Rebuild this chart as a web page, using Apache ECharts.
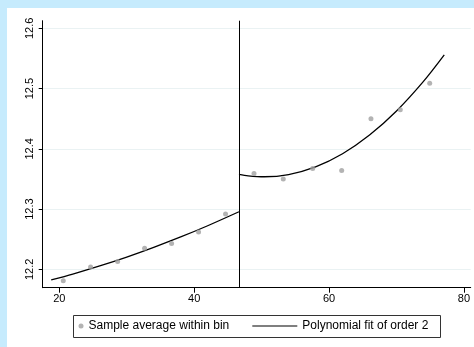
<!DOCTYPE html>
<html>
<head>
<meta charset="utf-8">
<script src="https://cdn.jsdelivr.net/npm/echarts@6/dist/echarts.min.js"></script>
<style>
  html, body { margin: 0; padding: 0; background: #c6ebfd; }
  #paper { position: absolute; left: 7px; top: 8px; width: 467px; height: 339px; background: #ffffff; }
  #chart { position: absolute; left: 0; top: 0; width: 474px; height: 347px; }
</style>
</head>
<body>
<div id="paper"></div>
<div id="chart"></div>
<script>
// ---- data ----
const binX = [20.59, 24.64, 28.65, 32.65, 36.65, 40.65, 44.65, 48.87, 53.21, 57.57, 61.87, 66.21, 70.56, 74.92];
const binY = [12.181, 12.204, 12.213, 12.235, 12.243, 12.262, 12.292, 12.359, 12.350, 12.3675, 12.364, 12.450, 12.465, 12.509];
const fitLeftX = [18.8, 22, 26, 30, 34, 38, 42, 46.64];
const fitLeftY = [12.1824, 12.1922, 12.2057, 12.2204, 12.2365, 12.2537, 12.2723, 12.2955];
const fitRightX = [46.64, 48, 50.4, 54, 58, 62, 66, 70, 74, 77.08];
const fitRightY = [12.3576, 12.3552, 12.3536, 12.3573, 12.3700, 12.3918, 12.4228, 12.4628, 12.5119, 12.5559];
const cutoff = 46.64;
const xTicks = [20, 40, 60, 80];
const yTicks = [12.2, 12.3, 12.4, 12.5, 12.6];
const xRange = [17.54, 81.0];
const yRange = [12.1695, 12.6126];
const scatterName = 'Sample average within bin';
const fitName = 'Polynomial fit of order 2';

const pairs = (xs, ys) => xs.map((x, i) => [x, ys[i]]);
const FONT = 'Liberation Sans, Arial, Helvetica, sans-serif';

const chart = echarts.init(document.getElementById('chart'), null, { renderer: 'canvas' });
chart.setOption({
  backgroundColor: 'transparent',
  animation: false,
  textStyle: { fontFamily: FONT },
  grid: { left: 42.7, right: 3.3, top: 20.7, bottom: 59.3, containLabel: false },
  xAxis: {
    type: 'value', min: xRange[0], max: xRange[1],
    axisLine: { show: true, lineStyle: { color: '#000', width: 1 } },
    axisTick: { show: true, length: 5, customValues: xTicks, lineStyle: { color: '#000' } },
    axisLabel: { customValues: xTicks, margin: 6, fontSize: 11, color: '#000', fontFamily: FONT },
    splitLine: { show: false }
  },
  yAxis: {
    type: 'value', min: yRange[0], max: yRange[1],
    axisLine: { show: true, lineStyle: { color: '#000', width: 1 } },
    axisTick: { show: true, length: 4, customValues: yTicks, lineStyle: { color: '#000' } },
    axisLabel: { customValues: yTicks, rotate: 90, margin: 7, fontSize: 11, color: '#000', fontFamily: FONT,
      formatter: v => Number(v).toFixed(1) },
    splitLine: { show: true, lineStyle: { color: '#eaf2f3', width: 1 } }
  },
  legend: [
    {
      data: [scatterName], left: 78.5, top: 320, padding: 0,
      icon: 'circle', itemWidth: 5, itemHeight: 5,
      textStyle: { fontSize: 12, color: '#000', fontFamily: FONT }
    },
    {
      data: [fitName], left: 252.3, top: 320, padding: 0,
      icon: 'rect', itemWidth: 45, itemHeight: 1.2,
      itemStyle: { color: '#000' },
      textStyle: { fontSize: 12, color: '#000', fontFamily: FONT }
    }
  ],
  graphic: [
    { type: 'rect', shape: { x: 73.5, y: 315.5, width: 367, height: 22 },
      style: { fill: '#fff', stroke: '#333', lineWidth: 1 }, z: 0, silent: true }
  ],
  series: [
    {
      name: scatterName, type: 'scatter', data: pairs(binX, binY),
      symbol: 'circle', symbolSize: 5, itemStyle: { color: '#a0a0a0' }, z: 3
    },
    {
      name: fitName, type: 'line', data: pairs(fitLeftX, fitLeftY), smooth: 0.3,
      showSymbol: false, symbol: 'none', lineStyle: { color: '#000', width: 1.3 }, itemStyle: { color: '#000' },
      markLine: {
        silent: true, symbol: 'none', label: { show: false },
        lineStyle: { color: '#000', width: 1, type: 'solid' },
        data: [{ xAxis: cutoff }]
      }
    },
    {
      name: fitName, type: 'line', data: pairs(fitRightX, fitRightY), smooth: 0.3,
      showSymbol: false, symbol: 'none', lineStyle: { color: '#000', width: 1.3 }, itemStyle: { color: '#000' }
    }
  ]
});
</script>
</body>
</html>
